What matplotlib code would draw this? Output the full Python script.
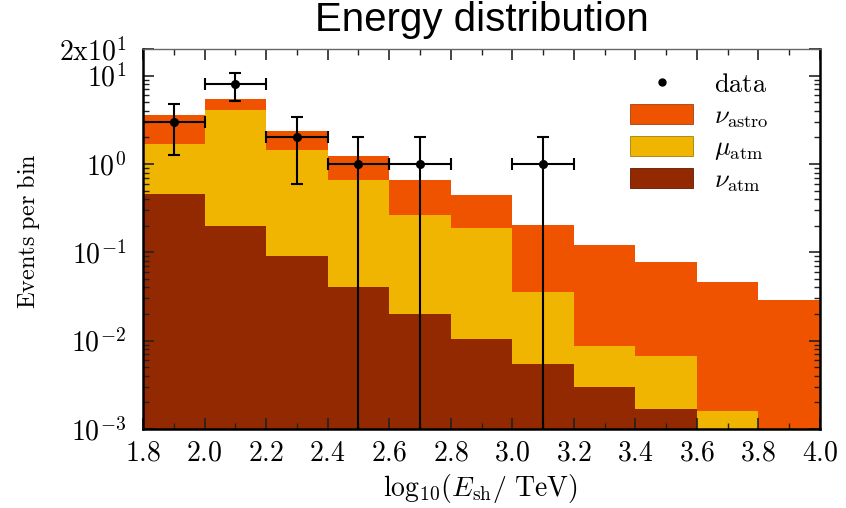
"""Stacked energy distribution of shower events with data points."""

import matplotlib

matplotlib.use("Agg")
import matplotlib.pyplot as plt
import numpy as np
from matplotlib.lines import Line2D
from matplotlib.patches import Patch
from matplotlib.ticker import FixedLocator, LogLocator, MultipleLocator

plt.rcParams["mathtext.fontset"] = "cm"
plt.rcParams["font.family"] = ["DejaVu Sans"]

# histogram binning in log10(E_sh / TeV)
bin_edges = [1.8, 2.0, 2.2, 2.4, 2.6, 2.8, 3.0, 3.2, 3.4, 3.6, 3.8, 4.0]

# expected events per bin, per component (stacked bottom -> top)
nu_atm = [0.46, 0.20, 0.090, 0.041, 0.020, 0.0104, 0.0055, 0.0030, 0.0017, 0.0008, 0.0005]
mu_atm = [1.22, 3.90, 1.36, 0.624, 0.243, 0.179, 0.0303, 0.0058, 0.0050, 0.0008, 0.0003]
nu_astro = [1.92, 1.32, 0.88, 0.575, 0.39, 0.261, 0.170, 0.111, 0.071, 0.0448, 0.0277]

# observed events
data_x = [1.9, 2.1, 2.3, 2.5, 2.7, 3.1]
data_n = [3, 8, 2, 1, 1, 1]

x_ticks = [1.8, 2.0, 2.2, 2.4, 2.6, 2.8, 3.0, 3.2, 3.4, 3.6, 3.8, 4.0]
y_ticks = [1e-3, 1e-2, 1e-1, 1, 10, 20]
y_tick_labels = [r"$10^{-3}$", r"$10^{-2}$", r"$10^{-1}$", r"$10^{0}$", r"$10^{1}$", r"$2{\rm x}10^{1}$"]

C_ASTRO = "#f05300"
C_MU = "#efb500"
C_NU = "#922900"

fig = plt.figure(figsize=(8.46, 5.08), dpi=100)
ax = fig.add_axes([143 / 846, 1 - 429 / 508, 677 / 846, 380 / 508])

left = np.array(bin_edges[:-1])
width = np.diff(bin_edges)
b1 = np.array(nu_atm)
b2 = b1 + np.array(mu_atm)
ax.bar(left, nu_atm, width=width, align="edge", color=C_NU, lw=0)
ax.bar(left, mu_atm, width=width, bottom=b1, align="edge", color=C_MU, lw=0)
ax.bar(left, nu_astro, width=width, bottom=b2, align="edge", color=C_ASTRO, lw=0)

n = np.array(data_n, dtype=float)
err = np.sqrt(n)
ax.errorbar(data_x, n, yerr=err, xerr=0.1, fmt="o", color="black", ms=5.5,
            elinewidth=1.5, capsize=4.5, capthick=1.5, zorder=5)

ax.set_yscale("log")
ax.set_xlim(1.8, 4.0)
ax.set_ylim(1e-3, 20)

ax.xaxis.set_major_locator(FixedLocator(x_ticks))
ax.xaxis.set_minor_locator(MultipleLocator(0.1))
ax.set_xticklabels([f"${v:.1f}$" for v in x_ticks])
ax.yaxis.set_major_locator(FixedLocator(y_ticks))
ax.yaxis.set_minor_locator(LogLocator(base=10, subs=np.arange(2, 10)))
ax.yaxis.set_minor_formatter(plt.NullFormatter())
ax.set_yticklabels(y_tick_labels)

ax.tick_params(which="both", direction="in", top=True, right=True, color="#222222")
ax.tick_params(which="major", length=8, width=1.2)
ax.tick_params(which="minor", length=4, width=1.0)
ax.tick_params(axis="x", labelsize=20, pad=7)
ax.tick_params(axis="y", labelsize=20, pad=12)

for side in ("left", "bottom", "right"):
    ax.spines[side].set_linewidth(1.8)
ax.spines["top"].set_linewidth(1.0)
ax.spines["top"].set_color("#666666")

fig.text(29 / 846, 1 - 231 / 508, r"${\rm Events\ per\ bin}$", rotation=90,
         ha="center", va="center", fontsize=17.5)
fig.text(480 / 846, 1 - 496 / 508, r"${\rm log}_{10}(E_{\rm sh}/\ {\rm TeV})$",
         ha="center", va="baseline", fontsize=20)
fig.text(482 / 846, 1 - 31 / 508, "Energy distribution", family="Liberation Sans",
         ha="center", va="baseline", fontsize=29)

handles = [
    Line2D([], [], marker="o", ls="none", color="black", ms=5),
    Patch(facecolor=C_ASTRO, edgecolor="#a04010", lw=0.6),
    Patch(facecolor=C_MU, edgecolor="#a08010", lw=0.6),
    Patch(facecolor=C_NU, edgecolor="#601a00", lw=0.6),
]
labels = [r"${\rm data}$", r"$\nu_{\rm astro}$", r"$\mu_{\rm atm}$", r"$\nu_{\rm atm}$"]
fig.legend(handles, labels, loc="upper left", bbox_to_anchor=(630 / 846, 1 - 72 / 508),
           frameon=False, fontsize=19, handlelength=2.4, handleheight=0.82,
           handletextpad=0.8, labelspacing=0.2, borderpad=0, borderaxespad=0)

fig.savefig("out.png", dpi=100)
